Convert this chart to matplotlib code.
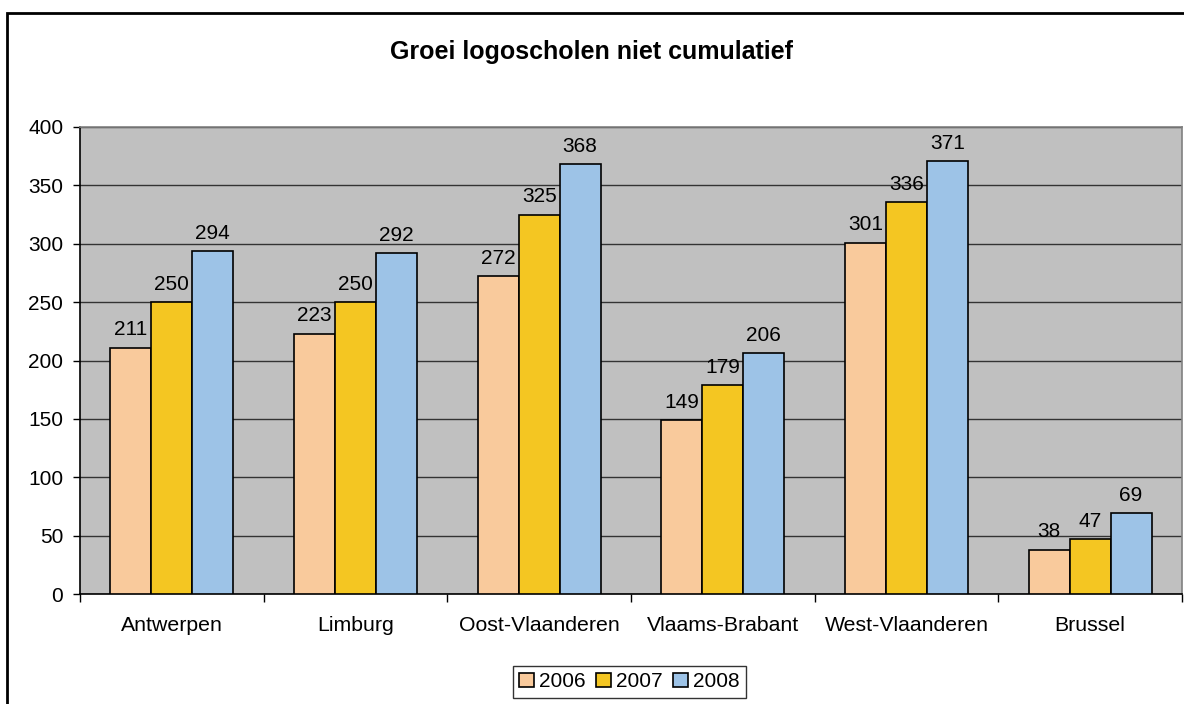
import matplotlib.pyplot as plt
import numpy as np
from matplotlib.patches import Rectangle

plt.rcParams['font.family'] = ['Liberation Sans', 'DejaVu Sans']

# data
regions = ['Antwerpen', 'Limburg', 'Oost-Vlaanderen', 'Vlaams-Brabant',
           'West-Vlaanderen', 'Brussel']
years = ['2006', '2007', '2008']
v2006 = [211, 223, 272, 149, 301, 38]
v2007 = [250, 250, 325, 179, 336, 47]
v2008 = [294, 292, 368, 206, 371, 69]
colors = ['#F9CA9C', '#F4C622', '#9DC3E7']

fig = plt.figure(figsize=(11.84, 7.04), dpi=100)
ax = fig.add_axes([80/1184, 110/704, 1102/1184, 467/704])
ax.set_facecolor('#C0C0C0')

index = np.arange(len(regions))
bar_width = 0.223
series = [v2006, v2007, v2008]
for i, (vals, col, yr) in enumerate(zip(series, colors, years)):
    pos = index + (i - 1) * bar_width
    bars = ax.bar(pos, vals, bar_width, color=col, edgecolor='black',
                  linewidth=1.2, label=yr, zorder=3)
    for x, v in zip(pos, vals):
        ax.text(x, v + 7, str(v), ha='center', va='bottom', fontsize=15,
                zorder=4)

ax.set_xlim(-0.5, len(regions) - 0.5)
ax.set_ylim(0, 400)
ax.set_yticks(range(0, 401, 50))
ax.yaxis.grid(True, color='#333333', linewidth=1, zorder=1)
ax.set_axisbelow(True)

# boundary ticks and centered labels
ax.set_xticks(np.arange(-0.5, len(regions)), labels=[''] * (len(regions) + 1))
ax.set_xticks(index, labels=regions, minor=True)
ax.tick_params(axis='x', which='major', length=6, direction='out', width=1)
ax.tick_params(axis='x', which='minor', length=0, pad=16, labelsize=15.3)
ax.tick_params(axis='y', length=5, width=1, labelsize=15, pad=7)

ax.spines['left'].set_color('black')
ax.spines['bottom'].set_color('black')
ax.spines['top'].set_color('#808080')
ax.spines['right'].set_color('#808080')
for s in ax.spines.values():
    s.set_linewidth(1.2)

fig.text(592/1184, 1 - 52/704, 'Groei logoscholen niet cumulatief',
         ha='center', va='center', fontsize=18, fontweight='bold')

leg = ax.legend(loc='upper center', bbox_to_anchor=(629.5/1184, 1 - 666/704),
                bbox_transform=fig.transFigure, ncol=3, fontsize=15,
                frameon=True, fancybox=False, edgecolor='black',
                handlelength=0.7, handleheight=0.7, handletextpad=0.25,
                columnspacing=0.5, borderpad=0.3, borderaxespad=0)
leg.get_frame().set_linewidth(1)

# outer chart border (cut off at right and bottom)
fig.patches.append(Rectangle((7/1184, -0.1), 1.2, 1.1 - 13/704,
                             transform=fig.transFigure, fill=False,
                             edgecolor='black', linewidth=2))

plt.savefig('out.png', dpi=100)
